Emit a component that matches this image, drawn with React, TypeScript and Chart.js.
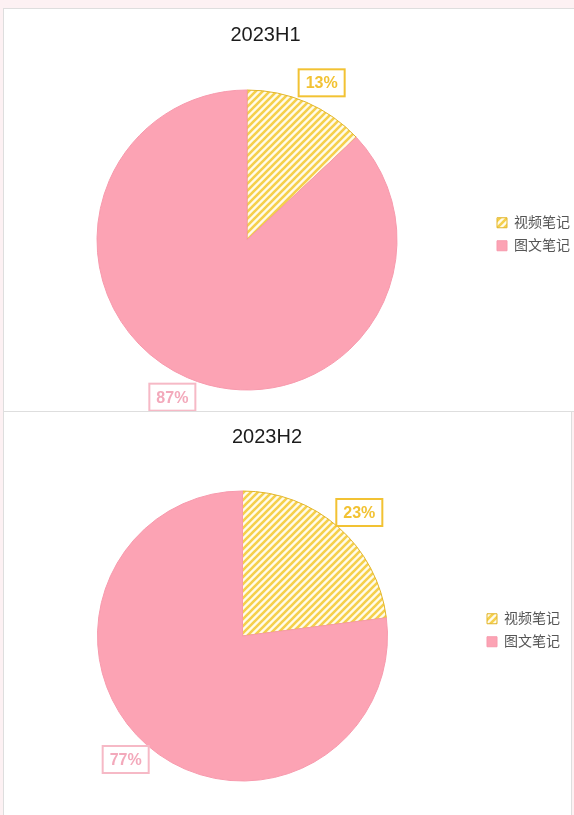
import React, { useEffect, useRef } from "react";
import { Chart, registerables } from "chart.js";

Chart.register(...registerables);

// ---- data ----
const categories = ["视频笔记", "图文笔记"];
const titles = ["2023H1", "2023H2"];
const valuesH1 = [13, 87];
const valuesH2 = [23, 77];

const FONT = "'Liberation Sans', Arial, 'Noto Sans CJK SC', sans-serif";

const GOLD = "#f2c233";
const GOLD_BORDER = "#e2b52a";
const PINK = "#fca3b4";
const PINK_BORDER = "#f79aad";
const PINK_LABEL = "#f3a9bb";
const PINK_LABEL_BORDER = "#f6b9c6";

function makeHatch(): CanvasPattern | string {
  const size = 7;
  const c = document.createElement("canvas");
  c.width = size;
  c.height = size;
  const g = c.getContext("2d");
  if (!g) return GOLD;
  g.fillStyle = "#fffbea";
  g.fillRect(0, 0, size, size);
  g.strokeStyle = "#f5d04c";
  g.lineWidth = 2.6;
  g.lineCap = "square";
  g.beginPath();
  g.moveTo(-1, size + 1);
  g.lineTo(size + 1, -1);
  g.moveTo(-2, 2);
  g.lineTo(2, -2);
  g.moveTo(size - 2, size + 2);
  g.lineTo(size + 2, size - 2);
  g.stroke();
  return g.createPattern(c, "repeat") || GOLD;
}

const pctLabels = {
  id: "pctLabels",
  afterDatasetsDraw(chart: any, _args: any, opts: any) {
    const ctx: CanvasRenderingContext2D = chart.ctx;
    const meta = chart.getDatasetMeta(0);
    const data = chart.data.datasets[0].data as number[];
    const total = data.reduce((a, b) => a + b, 0);
    meta.data.forEach((arc: any, i: number) => {
      const p = arc.getProps(["x", "y", "startAngle", "endAngle", "outerRadius"], true);
      const mid = (p.startAngle + p.endAngle) / 2 + opts.angleShift;
      const r = p.outerRadius + opts.offset;
      const cx = p.x + Math.cos(mid) * r;
      const cy = p.y + Math.sin(mid) * r;
      const text = Math.round((data[i] / total) * 100) + "%";
      ctx.save();
      ctx.font = `bold 16px ${FONT}`;
      const w = ctx.measureText(text).width + 2 * opts.padX;
      const h = 16 + 2 * opts.padY;
      ctx.fillStyle = "#ffffff";
      ctx.fillRect(cx - w / 2, cy - h / 2, w, h);
      ctx.strokeStyle = opts.borderColors[i];
      ctx.lineWidth = 2;
      ctx.strokeRect(cx - w / 2, cy - h / 2, w, h);
      ctx.fillStyle = opts.textColors[i];
      ctx.textAlign = "center";
      ctx.textBaseline = "middle";
      ctx.fillText(text, cx, cy + 1);
      ctx.restore();
    });
  },
};

const shiftBlocks = {
  id: "shiftBlocks",
  afterLayout(chart: any, _args: any, opts: any) {
    const t = chart.titleBlock;
    if (t) {
      t.left += opts.titleX;
      t.right += opts.titleX;
    }
    const l = chart.legend;
    if (l) {
      l.top += opts.legendY;
      l.bottom += opts.legendY;
      l.left += opts.legendX;
      l.right += opts.legendX;
    }
  },
};

type Geo = {
  left: number;
  top: number;
  width: number;
  height: number;
  pad: { left: number; right: number; top: number; bottom: number };
  titlePad: { top: number; bottom: number };
  titleX: number;
  legendX: number;
  legendY: number;
  labelOffset: number;
};

function PieChart({ title, values, geo }: { title: string; values: number[]; geo: Geo }) {
  const ref = useRef<HTMLCanvasElement | null>(null);
  useEffect(() => {
    if (!ref.current) return;
    const hatch = makeHatch();
    const chart = new Chart(ref.current, {
      type: "pie",
      data: {
        labels: categories,
        datasets: [
          {
            data: values,
            backgroundColor: [hatch as any, PINK],
            borderColor: [GOLD_BORDER, PINK_BORDER],
            borderWidth: 1,
          },
        ],
      },
      options: {
        responsive: false,
        animation: false,
        events: [],
        layout: { padding: geo.pad },
        plugins: {
          title: {
            display: true,
            text: title,
            color: "#1c1c1c",
            font: { family: FONT, size: 20, weight: "normal" as any },
            padding: geo.titlePad,
          },
          legend: {
            position: "right",
            labels: {
              boxWidth: 10,
              boxHeight: 10,
              padding: 9,
              color: "#555555",
              font: { family: FONT, size: 14 },
            },
          },
          tooltip: { enabled: false },
          pctLabels: {
            offset: geo.labelOffset,
            angleShift: 0.035,
            padX: 7,
            padY: 5.5,
            borderColors: [GOLD, PINK_LABEL_BORDER],
            textColors: [GOLD, PINK_LABEL],
          },
          shiftBlocks: { titleX: geo.titleX, legendX: geo.legendX, legendY: geo.legendY },
        } as any,
      },
      plugins: [pctLabels as any, shiftBlocks as any],
    });
    return () => chart.destroy();
  }, [title, values]);
  return (
    <canvas
      ref={ref}
      width={geo.width}
      height={geo.height}
      style={{ position: "absolute", left: geo.left, top: geo.top, width: geo.width, height: geo.height }}
    />
  );
}

const geoTop: Geo = {
  left: 3,
  top: 8,
  width: 580,
  height: 403,
  pad: { left: 7, right: 7, top: 0, bottom: 20.5 },
  titlePad: { top: 15, bottom: 42.5 },
  titleX: -27.5,
  legendX: 4,
  legendY: 35,
  labelOffset: 24,
};

const geoBottom: Geo = {
  left: 3,
  top: 411,
  width: 568,
  height: 404,
  pad: { left: 8, right: 5, top: 0, bottom: 33.5 },
  titlePad: { top: 14, bottom: 41.5 },
  titleX: -21.5,
  legendX: 4,
  legendY: 34,
  labelOffset: 25,
};

export default function App() {
  return (
    <div
      style={{
        position: "absolute",
        left: 0,
        top: 0,
        width: 574,
        height: 815,
        overflow: "hidden",
        background: "#fdf1f3",
      }}
    >
      <div
        style={{
          position: "absolute",
          left: 3,
          top: 8,
          width: 600,
          height: 404,
          background: "#ffffff",
          border: "1px solid #dedede",
          boxSizing: "border-box",
        }}
      />
      <div
        style={{
          position: "absolute",
          left: 3,
          top: 411,
          width: 569,
          height: 420,
          background: "#ffffff",
          border: "1px solid #dedede",
          boxSizing: "border-box",
        }}
      />
      <PieChart title={titles[0]} values={valuesH1} geo={geoTop} />
      <PieChart title={titles[1]} values={valuesH2} geo={geoBottom} />
    </div>
  );
}
